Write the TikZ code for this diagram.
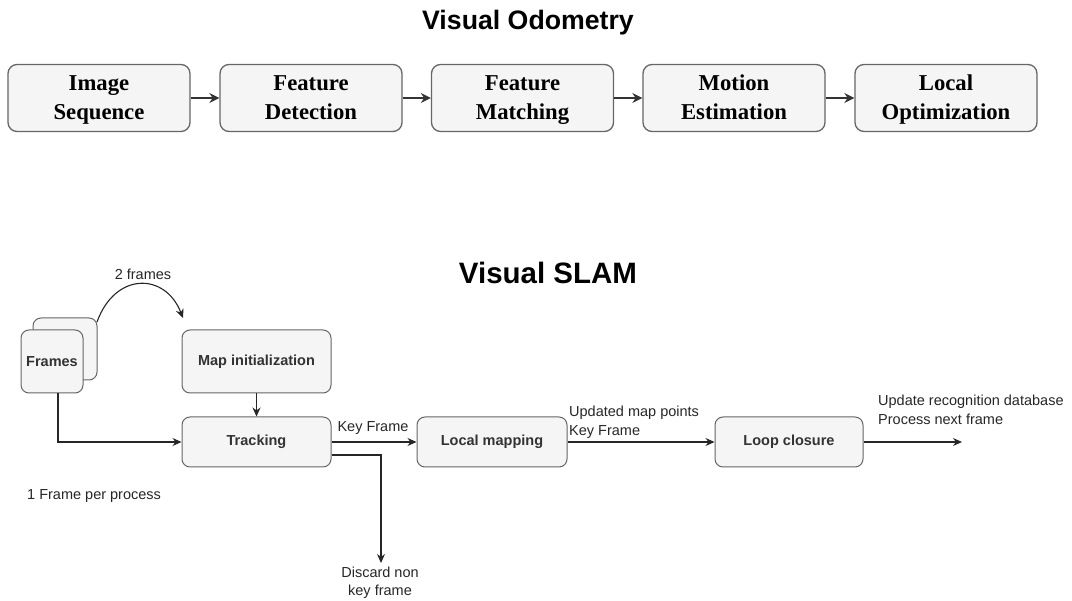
\documentclass[tikz,border=0pt]{standalone}
\usepackage{fontspec}
\setmainfont{Liberation Serif}
\newfontfamily\arial{Liberation Sans}
\usetikzlibrary{arrows.meta}
\newcommand{\tp}{\rule{0pt}{22pt}}
\newcommand{\bt}{\rule[-7pt]{0pt}{7pt}}
\begin{document}
\begin{tikzpicture}[x=1pt,y=-1pt,
 vobox/.style={draw=black!60, fill=black!4, rounded corners=9pt, line width=1.3pt, minimum width=182pt, minimum height=67pt, inner sep=0pt, align=center, font=\fontsize{22.7}{29}\selectfont\bfseries},
 slbox/.style={draw=black!60, fill=black!4, rounded corners=8pt, line width=1pt, inner sep=0pt, align=center, font=\arial\fontsize{14.5}{17}\selectfont\bfseries, text=black!80},
 voarr/.style={-{Stealth[length=10pt,width=10pt]}, line width=2pt, black!80},
 slarr/.style={-{Stealth[length=9pt,width=8pt]}, line width=1.1pt, black!85},
 lbl/.style={font=\arial\fontsize{14.5}{18.5}\selectfont, text=black!85, inner sep=0pt},
 ttl/.style={font=\arial\bfseries, inner sep=0pt}
]
\useasboundingbox (0,0) rectangle (1072,601);
% Visual Odometry
\node[ttl, font=\arial\bfseries\fontsize{26.7}{30}\selectfont] (t1) at (528,23) {Visual Odometry};
\node[vobox] (v1) at (99,98) {\tp Image\\Sequence\bt};
\node[vobox] (v2) at (311,98) {\tp Feature\\Detection\bt};
\node[vobox] (v3) at (522.5,98) {\tp Feature\\Matching\bt};
\node[vobox] (v4) at (734,98) {\tp Motion\\Estimation\bt};
\node[vobox] (v5) at (946,98) {\tp Local\\Optimization\bt};
\draw[voarr] (v1.east) -- (v2.west);
\draw[voarr] (v2.east) -- (v3.west);
\draw[voarr] (v3.east) -- (v4.west);
\draw[voarr] (v4.east) -- (v5.west);
% Visual SLAM
\node[ttl, font=\arial\bfseries\fontsize{29.5}{33}\selectfont] (t2) at (548,273) {Visual SLAM};
\node[slbox, minimum width=64pt, minimum height=62pt] (fb) at (65,349) {};
\node[slbox, minimum width=62pt, minimum height=63pt] (ff) at (52,361.5) {Frames};
\node[slbox, minimum width=149pt, minimum height=63pt] (mi) at (256.5,361.5) {Map initialization};
\node[slbox, minimum width=149pt, minimum height=50pt] (tr) at (256.5,442) {Tracking};
\node[slbox, minimum width=150pt, minimum height=50pt] (lm) at (492,442) {Local mapping};
\node[slbox, minimum width=148pt, minimum height=50pt] (lc) at (789,442) {Loop closure};
\coordinate (c1) at (97,322);
\coordinate (c2) at (183,318);
\coordinate (dis) at (381,563);
\coordinate (out) at (962,442);
\draw[slarr] (c1) .. controls (115,272) and (165,272) .. (c2);
\node[lbl] (l2f) at (143,274) {2 frames};
\draw[slarr] ([xshift=6pt]ff.south) |- (tr.west);
\draw[slarr] (mi.south) -- (tr.north);
\draw[slarr] (tr.east) -- (lm.west);
\node[lbl] (lkf) at (373,428) {Key Frame};
\draw[slarr] ([yshift=-13pt]tr.east) -| (dis);
\node[lbl, align=center] (ldis) at (380,583) {Discard non\\key frame};
\draw[slarr] (lm.east) -- (lc.west);
\node[lbl, align=left, anchor=west] (lup) at (569,422.5) {Updated map points\\Key Frame};
\draw[slarr] (lc.east) -- (out);
\node[lbl, align=left, anchor=west] (lrec) at (878,410) {Update recognition database\\Process next frame};
\node[lbl, anchor=west] (lone) at (27,496) {1 Frame per process};
\end{tikzpicture}
\end{document}
